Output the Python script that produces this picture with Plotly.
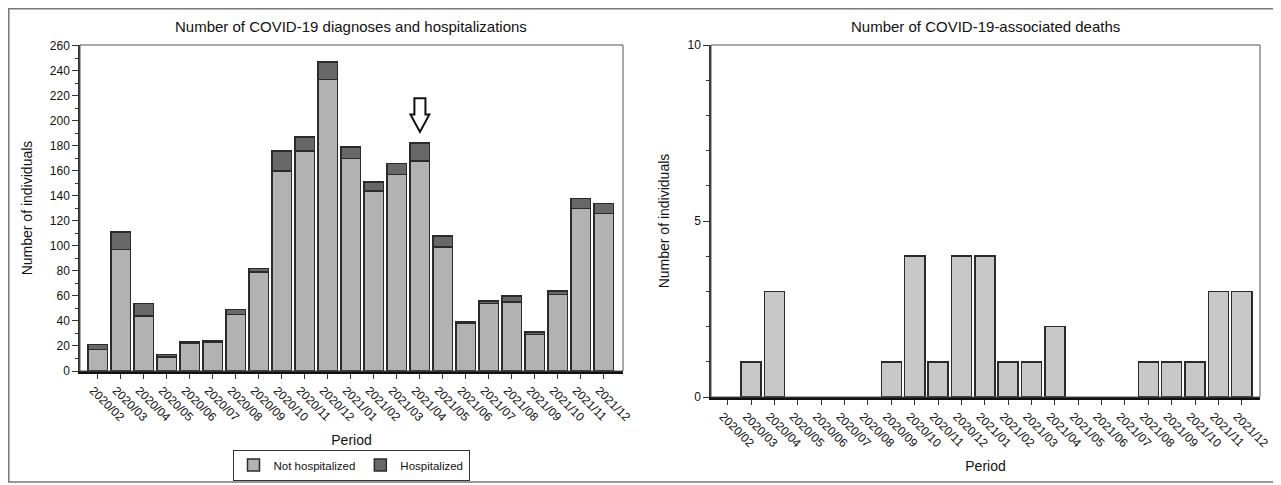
import plotly.graph_objects as go

# ---------------- data ----------------
periods = ["2020/02", "2020/03", "2020/04", "2020/05", "2020/06", "2020/07",
           "2020/08", "2020/09", "2020/10", "2020/11", "2020/12", "2021/01",
           "2021/02", "2021/03", "2021/04", "2021/05", "2021/06", "2021/07",
           "2021/08", "2021/09", "2021/10", "2021/11", "2021/12"]
not_hospitalized = [17, 97, 44, 11, 22, 23, 45, 79, 160, 176, 233, 170,
                    144, 157, 168, 99, 38, 54, 55, 29, 61, 130, 126]
hospitalized = [4, 14, 10, 2, 1, 1, 4, 3, 16, 11, 14, 9,
                7, 9, 14, 9, 1, 2, 5, 2, 3, 8, 8]
deaths = [0, 1, 3, 0, 0, 0, 0, 1, 4, 1, 4, 4,
          1, 1, 2, 0, 0, 0, 1, 1, 1, 3, 3]
left_yticks = list(range(0, 261, 20))
right_yticks = [0, 5, 10]
arrow_period = "2021/04"

# ---------------- layout helpers ----------------
W, H = 1281, 485
OFF = 8  # page body margin in the browser
def px_x(p): return (p - OFF) / W
def px_y(p): return 1 - (p - OFF) / H

FONT = "Arial, Liberation Sans, sans-serif"
TXT = "#111111"
xpos = list(range(len(periods)))

fig = go.Figure()

fig.add_trace(go.Bar(
    x=xpos, y=not_hospitalized, name="Not hospitalized",
    marker=dict(color="#b2b2b2", line=dict(color="#2b2b2b", width=1.5)),
    xaxis="x", yaxis="y", width=0.85))
fig.add_trace(go.Bar(
    x=xpos, y=hospitalized, name="Hospitalized",
    marker=dict(color="#686868", line=dict(color="#2b2b2b", width=1.5)),
    xaxis="x", yaxis="y", width=0.85))
fig.add_trace(go.Bar(
    x=xpos, y=deaths, name="Deaths", showlegend=False,
    marker=dict(color="#c8c8c8",
                line=dict(color="#2b2b2b", width=[1.5 if v > 0 else 0 for v in deaths])),
    xaxis="x2", yaxis="y2", width=0.86))

xcommon = dict(
    automargin=False,
    tickmode="array", tickvals=xpos, ticktext=periods, tickangle=45,
    ticks="outside", ticklen=5, tickwidth=1, tickcolor="#333",
    ticklabelshift=-5,
    showline=True, linewidth=2.5, linecolor="#111",
    showgrid=False, zeroline=False,
    tickfont=dict(family=FONT, size=12, color=TXT),
    title=dict(text="Period", font=dict(family=FONT, size=14, color=TXT), standoff=12),
)
ycommon = dict(
    automargin=False,
    ticks="outside", ticklen=6, tickwidth=1, tickcolor="#333",
    showline=True, linewidth=1.5, linecolor="#333",
    showgrid=False, zeroline=False,
    tickfont=dict(family=FONT, size=12, color=TXT),
)

fig.update_layout(
    template="none",
    width=W, height=H,
    margin=dict(l=0, r=0, t=0, b=0, pad=0),
    paper_bgcolor="white", plot_bgcolor="white",
    barmode="stack",
    font=dict(family=FONT, color=TXT),
    xaxis=dict(xcommon, domain=[px_x(80), px_x(623)], range=[-0.78, 22.83],
               anchor="y"),
    yaxis=dict(ycommon, domain=[px_y(371), px_y(45)], range=[0, 260.5],
               tickmode="array", tickvals=left_yticks, anchor="x",
               minor=dict(dtick=10, ticks="outside", ticklen=3, tickcolor="#333"),
               title=dict(text="Number of individuals",
                          font=dict(family=FONT, size=14, color=TXT), standoff=14)),
    xaxis2=dict(xcommon, domain=[px_x(711), px_x(1260)], range=[-0.72, 22.78],
                anchor="y2"),
    yaxis2=dict(ycommon, domain=[px_y(397), px_y(45)], range=[0, 10],
                tickmode="array", tickvals=right_yticks, anchor="x2",
                minor=dict(dtick=1, ticks="outside", ticklen=3, tickcolor="#333"),
                title=dict(text="Number of individuals",
                           font=dict(family=FONT, size=14, color=TXT), standoff=15)),
    legend=dict(orientation="h", x=px_x(351), xanchor="center",
                y=px_y(465), yanchor="middle", traceorder="normal",
                bordercolor="#333", borderwidth=1, bgcolor="white",
                font=dict(family=FONT, size=11.5, color=TXT),
                itemwidth=30),
    bargap=0.15,
    showlegend=True,
)

# titles
fig.add_annotation(text="Number of COVID-19 diagnoses and hospitalizations",
                   xref="paper", yref="paper", x=px_x(351), y=px_y(27),
                   xanchor="center", yanchor="middle",
                   showarrow=False, font=dict(family=FONT, size=15, color=TXT))
fig.add_annotation(text="Number of COVID-19-associated deaths",
                   xref="paper", yref="paper", x=px_x(985), y=px_y(27),
                   xanchor="center", yanchor="middle",
                   showarrow=False, font=dict(family=FONT, size=15, color=TXT))

# plot borders (thin top/right)
for xr, yr in (("x domain", "y domain"), ("x2 domain", "y2 domain")):
    fig.add_shape(type="rect", xref=xr, yref=yr, x0=0, x1=1, y0=0, y1=1,
                  line=dict(color="#555", width=1), layer="above")

# outer frame
fig.add_shape(type="rect", xref="paper", yref="paper",
              x0=px_x(8.8), x1=px_x(1300), y0=px_y(482), y1=px_y(8.8),
              line=dict(color="#777", width=1.5), layer="below")

# hollow down-arrow pointing at the 2021/04 bar
ia = periods.index(arrow_period)
tot = not_hospitalized[ia] + hospitalized[ia]
tip = tot + 9
head = tip + 14
top = head + 13
sw, hw = 0.24, 0.41
path = (f"M {ia-sw},{top} L {ia+sw},{top} L {ia+sw},{head} L {ia+hw},{head} "
        f"L {ia},{tip} L {ia-hw},{head} L {ia-sw},{head} Z")
fig.add_shape(type="path", xref="x", yref="y", path=path,
              line=dict(color="#111", width=2), fillcolor="white")

fig.write_html("out.html")
